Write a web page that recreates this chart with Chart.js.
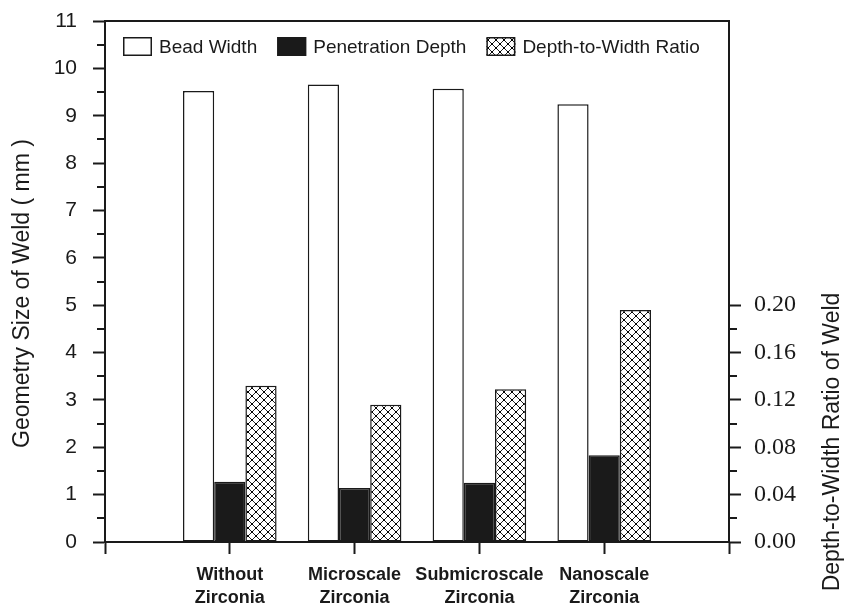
<!DOCTYPE html>
<html><head><meta charset="utf-8">
<script src="https://cdn.jsdelivr.net/npm/chart.js@4.4.1/dist/chart.umd.min.js"></script>
<style>html,body{margin:0;padding:0;background:#fff;} canvas{display:block;}</style>
</head><body>
<canvas id="c" width="853" height="606" style="width:853px;height:606px"></canvas>
<script>
// ---- data ----
const categories = [['Without','Zirconia'],['Microscale','Zirconia'],['Submicroscale','Zirconia'],['Nanoscale','Zirconia']];
const seriesNames = ['Bead Width','Penetration Depth','Depth-to-Width Ratio'];
const beadWidth = [9.52, 9.66, 9.57, 9.24];
const penetrationDepth = [1.27, 1.14, 1.25, 1.83];
const depthToWidthRatio = [0.132, 0.116, 0.129, 0.196];
const leftTicks = [0,1,2,3,4,5,6,7,8,9,10,11];
const rightTicks = [0.00,0.04,0.08,0.12,0.16,0.20];
const leftTitle = 'Geometry Size of Weld ( mm )';
const rightTitle = 'Depth-to-Width Ratio of Weld';

// ---- helpers ----
const INK = '#1a1a1a';
const pad = a => [null, ...a, null];
const labels = ['', ...categories, ''];
const leftMinor = leftTicks.slice(0,-1).map(v => v + 0.5);
const rightMinor = rightTicks.slice(0,-1).map((v,i) => (v + rightTicks[i+1]) / 2);

function hatch() {
  const p = document.createElement('canvas');
  p.width = 8; p.height = 8;
  const g = p.getContext('2d');
  g.fillStyle = '#fff'; g.fillRect(0,0,8,8);
  g.strokeStyle = '#222'; g.lineWidth = 1;
  g.beginPath();
  g.moveTo(0,0); g.lineTo(8,8);
  g.moveTo(8,0); g.lineTo(0,8);
  g.stroke();
  g.fillStyle = '#000';
  g.fillRect(3,3,2,2);
  g.fillRect(0,0,1,1); g.fillRect(7,0,1,1); g.fillRect(0,7,1,1); g.fillRect(7,7,1,1);
  return g.createPattern(p, 'repeat');
}
const hatchPattern = hatch();

const fills = ['#ffffff', INK, hatchPattern];

const overlay = {
  id: 'overlay',
  afterDraw(chart) {
    const ctx = chart.ctx, a = chart.chartArea;
    ctx.save();
    ctx.strokeStyle = INK; ctx.lineWidth = 2;
    // top border
    ctx.beginPath(); ctx.moveTo(a.left - 1, a.top); ctx.lineTo(a.right + 1, a.top); ctx.stroke();
    // minor ticks
    const y = chart.scales.y, y1 = chart.scales.y1;
    ctx.lineWidth = 2;
    leftMinor.forEach(v => { const p = Math.round(y.getPixelForValue(v)); ctx.beginPath(); ctx.moveTo(a.left - 8, p); ctx.lineTo(a.left, p); ctx.stroke(); });
    rightMinor.forEach(v => { const p = Math.round(y1.getPixelForValue(v)); ctx.beginPath(); ctx.moveTo(a.right, p); ctx.lineTo(a.right + 8, p); ctx.stroke(); });
    // axis titles
    ctx.fillStyle = INK;
    ctx.font = '23px "Liberation Sans", Arial, sans-serif';
    ctx.textAlign = 'center'; ctx.textBaseline = 'middle';
    ctx.save(); ctx.translate(23, (a.top + a.bottom) / 2 + 12); ctx.rotate(-Math.PI/2); ctx.fillText(leftTitle, 0, 0); ctx.restore();
    ctx.save(); ctx.translate(833, 442); ctx.rotate(-Math.PI/2); ctx.fillText(rightTitle, 0, 0); ctx.restore();
    // legend
    ctx.font = '19px "Liberation Sans", Arial, sans-serif';
    ctx.textAlign = 'left';
    let x = a.left + 18;
    const by = a.top + 16, bw = 29, bh = 19;
    chart.data.datasets.forEach((ds, i) => {
      ctx.fillStyle = ds.backgroundColor;
      ctx.fillRect(x, by, bw, bh);
      ctx.lineWidth = 1.5; ctx.strokeStyle = INK;
      ctx.strokeRect(x + 0.75, by + 0.75, bw - 1.5, bh - 1.5);
      ctx.fillStyle = INK;
      ctx.fillText(ds.label, x + bw + 7, by + bh / 2 + 1);
      x += bw + 7 + ctx.measureText(ds.label).width + 20;
    });
    ctx.restore();
  }
};

new Chart(document.getElementById('c'), {
  type: 'bar',
  data: {
    labels: labels,
    datasets: [
      { label: seriesNames[0], data: pad(beadWidth), yAxisID: 'y', backgroundColor: fills[0] },
      { label: seriesNames[1], data: pad(penetrationDepth), yAxisID: 'y', backgroundColor: fills[1] },
      { label: seriesNames[2], data: pad(depthToWidthRatio), yAxisID: 'y1', backgroundColor: fills[2] }
    ]
  },
  options: {
    responsive: false,
    animation: false,
    devicePixelRatio: 1,
    layout: { padding: { top: 21, left: 0, right: 0, bottom: 0 } },
    datasets: { bar: { categoryPercentage: 0.75, barPercentage: 1.0, borderColor: INK, borderWidth: 1.5, borderSkipped: false } },
    plugins: { legend: { display: false }, tooltip: { enabled: false } },
    scales: {
      x: {
        type: 'category', offset: false,
        grid: { display: true, offset: false, drawOnChartArea: false, drawTicks: true, tickLength: 12, tickColor: INK, tickWidth: 2 },
        border: { display: true, color: INK, width: 2 },
        ticks: { autoSkip: false, maxRotation: 0, minRotation: 0, padding: 10, color: INK,
                 font: { family: '"Liberation Sans", Arial, sans-serif', size: 18, weight: 'bold', lineHeight: 1.25 } },
        afterFit: s => { s.height = 64; s.paddingLeft = 0; s.paddingRight = 0; }
      },
      y: {
        position: 'left', min: 0, max: 11,
        afterBuildTicks: s => { s.ticks = leftTicks.map(v => ({ value: v })); },
        grid: { display: true, drawOnChartArea: false, drawTicks: true, tickLength: 12, tickColor: INK, tickWidth: 2 },
        border: { display: true, color: INK, width: 2 },
        ticks: { autoSkip: false, padding: 16, color: INK, callback: v => String(v),
                 font: { family: '"Liberation Sans", Arial, sans-serif', size: 21 } },
        afterFit: s => { s.width = 105; s.paddingTop = 0; s.paddingBottom = 0; }
      },
      y1: {
        position: 'right', min: 0, max: 0.44,
        afterBuildTicks: s => { s.ticks = rightTicks.map(v => ({ value: v })); },
        grid: { display: true, drawOnChartArea: false, drawTicks: true, tickLength: 12, tickColor: INK, tickWidth: 2 },
        border: { display: true, color: INK, width: 2 },
        ticks: { autoSkip: false, padding: 13, color: INK, callback: v => Number(v).toFixed(2),
                 font: { family: '"Liberation Serif", "Times New Roman", serif', size: 24 } },
        afterFit: s => { s.width = 124; s.paddingTop = 0; s.paddingBottom = 0; }
      }
    }
  },
  plugins: [overlay]
});
</script>
</body></html>
